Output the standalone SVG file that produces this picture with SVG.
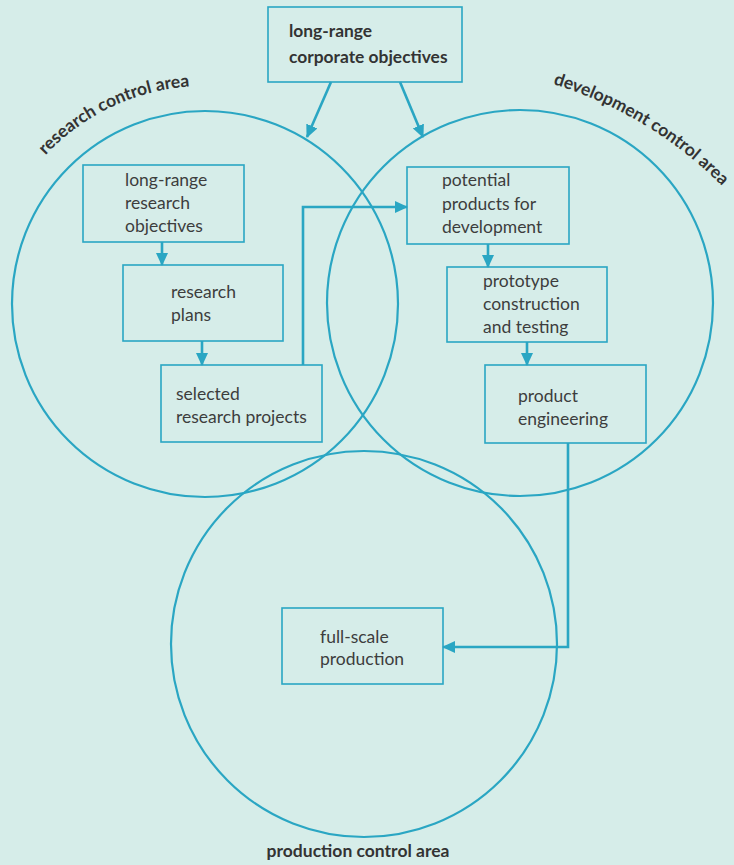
<svg xmlns="http://www.w3.org/2000/svg" width="734" height="865" viewBox="0 0 734 865">
<style>
.bg{fill:#d6ede9}
.circ{fill:none;stroke:#2aa6c3;stroke-width:2.2}
.box{fill:none;stroke:#2aa6c3;stroke-width:1.6}
.con{fill:none;stroke:#2aa6c3;stroke-width:2.6;marker-end:url(#ah)}
.t{font-family:Lato,"Open Sans",sans-serif;font-size:17.5px;fill:#3d3d3d}
.b{font-family:Lato,"Open Sans",sans-serif;font-size:17.4px;font-weight:bold;fill:#333}
.l{font-family:Lato,"Open Sans",sans-serif;font-size:17.5px;font-weight:bold;fill:#333}
</style>
<defs>
<marker id="ah" markerUnits="userSpaceOnUse" markerWidth="13" markerHeight="12" refX="12" refY="6" orient="auto">
<path d="M0,0 L13,6 L0,12 z" fill="#2aa6c3"/>
</marker>
<path id="rpath" d="M45.6,155.3 A218,218 0 0 1 314,115.2"/>
<path id="dpath" d="M553,84 Q655,116 728,192"/>
</defs>
<rect class="bg" x="0" y="0" width="734" height="865"/>
<g id="areas">
<circle class="circ" cx="205" cy="304" r="193"/>
<circle class="circ" cx="520" cy="303" r="193"/>
<circle class="circ" cx="364" cy="644" r="193"/>
<text class="l"><textPath href="#rpath">research control area</textPath></text>
<text class="l"><textPath href="#dpath">development control area</textPath></text>
<text class="l" x="358" y="857" text-anchor="middle">production control area</text>
</g>
<g id="connectors">
<line class="con" x1="331" y1="82" x2="307" y2="137"/>
<line class="con" x1="400" y1="82" x2="423" y2="137"/>
<line class="con" x1="162" y1="242" x2="162" y2="265"/>
<line class="con" x1="202" y1="341" x2="202" y2="365"/>
<polyline class="con" points="303,365 303,207 407,207"/>
<line class="con" x1="488" y1="244" x2="488" y2="267"/>
<line class="con" x1="527" y1="342" x2="527" y2="365"/>
<polyline class="con" points="568,443 568,647 443,647"/>
</g>
<g id="corporate">
<rect class="box" x="268" y="7" width="194" height="75"/>
<text class="b" x="289" y="37">long-range</text>
<text class="b" x="289" y="63">corporate objectives</text>
</g>
<g id="research-objectives">
<rect class="box" x="83" y="165" width="161" height="77"/>
<text class="t" x="125" y="186">long-range</text>
<text class="t" x="125" y="209">research</text>
<text class="t" x="125" y="232">objectives</text>
</g>
<g id="research-plans">
<rect class="box" x="123" y="265" width="160" height="76"/>
<text class="t" x="171" y="298">research</text>
<text class="t" x="171" y="321">plans</text>
</g>
<g id="research-projects">
<rect class="box" x="161" y="365" width="161" height="77"/>
<text class="t" x="176" y="400">selected</text>
<text class="t" x="176" y="423">research projects</text>
</g>
<g id="potential-products">
<rect class="box" x="407" y="167" width="162" height="77"/>
<text class="t" x="442" y="186">potential</text>
<text class="t" x="442" y="210">products for</text>
<text class="t" x="442" y="233">development</text>
</g>
<g id="prototype">
<rect class="box" x="447" y="267" width="160" height="75"/>
<text class="t" x="483" y="287">prototype</text>
<text class="t" x="483" y="310">construction</text>
<text class="t" x="483" y="333">and testing</text>
</g>
<g id="engineering">
<rect class="box" x="485" y="365" width="161" height="78"/>
<text class="t" x="518" y="402">product</text>
<text class="t" x="518" y="425">engineering</text>
</g>
<g id="production">
<rect class="box" x="282" y="608" width="161" height="76"/>
<text class="t" x="320" y="643">full-scale</text>
<text class="t" x="320" y="665">production</text>
</g>
</svg>
